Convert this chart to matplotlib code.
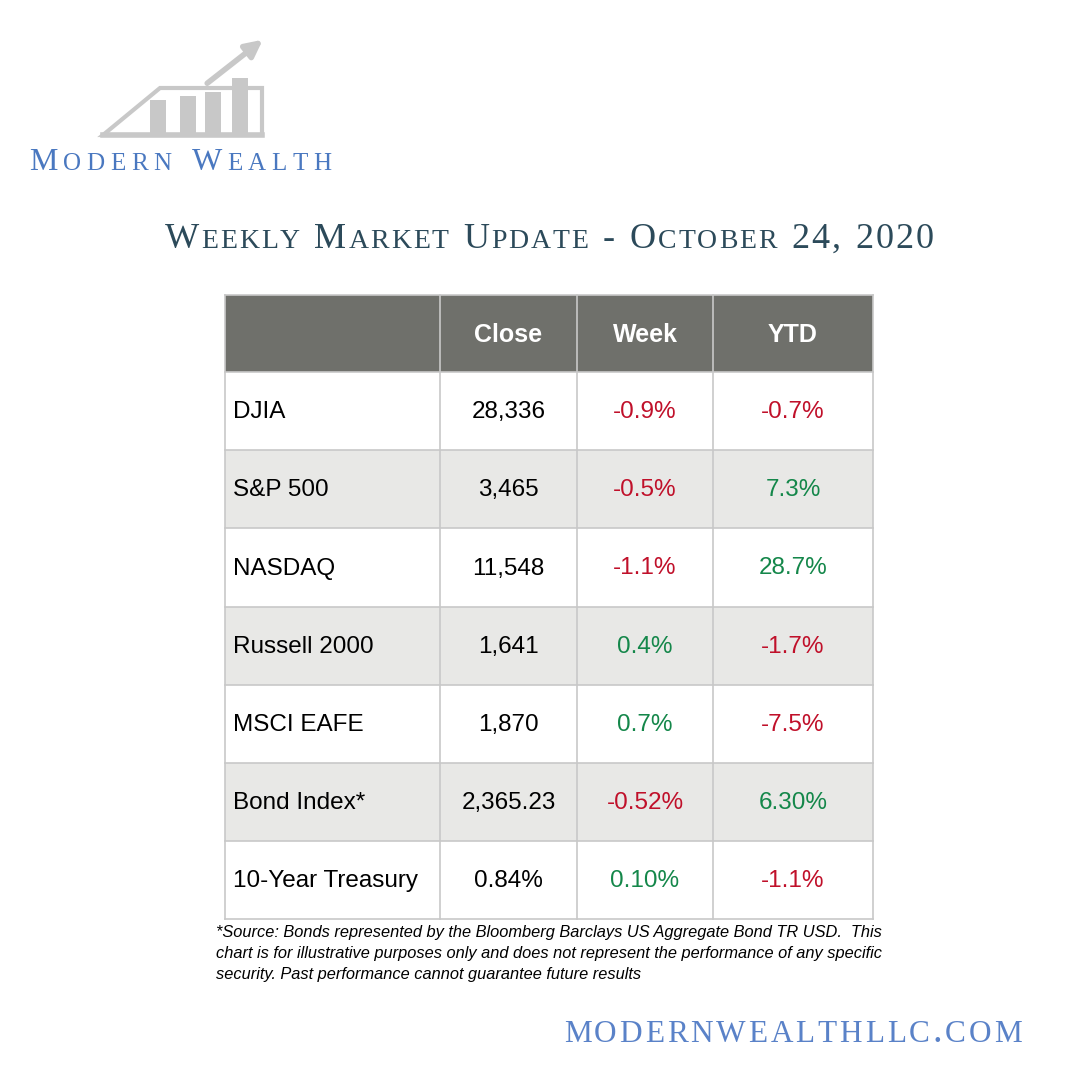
import matplotlib
matplotlib.use("Agg")
import matplotlib.pyplot as plt
from matplotlib.patches import Rectangle, Polygon

names = ["DJIA", "S&P 500", "NASDAQ", "Russell 2000", "MSCI EAFE", "Bond Index*", "10-Year Treasury"]
close = ["28,336", "3,465", "11,548", "1,641", "1,870", "2,365.23", "0.84%"]
week = ["-0.9%", "-0.5%", "-1.1%", "0.4%", "0.7%", "-0.52%", "0.10%"]
ytd = ["-0.7%", "7.3%", "28.7%", "-1.7%", "-7.5%", "6.30%", "-1.1%"]
headers = ["", "Close", "Week", "YTD"]

RED, GREEN = "#c0102a", "#14874a"
fig = plt.figure(figsize=(10.8, 10.8), dpi=100)
ax = fig.add_axes([0, 0, 1, 1])
ax.set_xlim(0, 1080); ax.set_ylim(1080, 0); ax.axis("off")
fig.patch.set_facecolor("white")
fig.canvas.draw()
r = fig.canvas.get_renderer()

def smallcaps(text, cx, cy, big, small, color, spacing=0.6):
    objs, widths = [], []
    for ch in text:
        s = small if ch.islower() else big
        c = ch.upper()
        t = ax.text(0, cy, c if c != " " else "\u00a0", fontsize=s, family="Liberation Serif",
                    color=color, va="baseline", ha="left")
        w = t.get_window_extent(r).width
        if ch == " ": w = s * 0.4
        objs.append(t); widths.append(w + spacing)
    x = cx - sum(widths) / 2
    for t, w in zip(objs, widths):
        t.set_x(x); x += w

# logo
g = "#c8c8c8"
ax.add_patch(Polygon([[103, 135], [160, 88], [262, 88], [262, 135]], closed=True, fc="none", ec=g, lw=3))
for xb, top in [(150, 100), (180, 96), (205, 92), (232, 78)]:
    ax.add_patch(Rectangle((xb, top), 16, 135 - top, fc=g, ec="none"))
ax.plot([103, 262], [135, 135], color=g, lw=4)
ax.annotate("", xy=(265, 38), xytext=(205, 85),
            arrowprops=dict(arrowstyle="-|>", color=g, lw=4, mutation_scale=25))
smallcaps("Modern Wealth", 183, 170, 23, 18, "#4a78c0", spacing=5.5)
smallcaps("Weekly Market Update - October 24, 2020", 550, 248, 26, 20, "#2c4a5a", spacing=2.0)
smallcaps("modernwealthllc.com", 794, 1042, 28, 22.5, "#5a82c8", spacing=2.8)

cols = [225, 440, 577, 713, 873]
top, hh, rh = 295, 77, 78.2
ax.add_patch(Rectangle((cols[0], top), cols[-1] - cols[0], hh, fc="#6f706b", ec="none"))
for j, h in enumerate(headers):
    if h:
        ax.text((cols[j] + cols[j + 1]) / 2, top + hh / 2 + 1, h, ha="center", va="center",
                color="white", fontsize=18, fontweight="bold", family="Liberation Sans")
for i in range(len(names)):
    y = top + hh + i * rh
    fc = "#e8e8e6" if i % 2 else "white"
    ax.add_patch(Rectangle((cols[0], y), cols[-1] - cols[0], rh, fc=fc, ec="none"))
    yc = y + rh / 2 + 1
    ax.text(cols[0] + 8, yc, names[i], va="center", fontsize=17.5, family="Liberation Sans")
    ax.text((cols[1] + cols[2]) / 2, yc, close[i], va="center", ha="center", fontsize=17.5, family="Liberation Sans")
    for j, v in [(2, week[i]), (3, ytd[i])]:
        ax.text((cols[j] + cols[j + 1]) / 2, yc, v, va="center", ha="center", fontsize=17.5,
                family="Liberation Sans", color=RED if v.startswith("-") else GREEN)
bottom = top + hh + len(names) * rh
lc = "#c8c8c8"
for x in cols:
    ax.plot([x, x], [top, bottom], color=lc, lw=1.2)
for k in range(len(names) + 2):
    y = top if k == 0 else top + hh + (k - 1) * rh
    ax.plot([cols[0], cols[-1]], [y, y], color=lc, lw=1.2)

note = ("*Source: Bonds represented by the Bloomberg Barclays US Aggregate Bond TR USD.  This\n"
        "chart is for illustrative purposes only and does not represent the performance of any specific\n"
        "security. Past performance cannot guarantee future results")
ax.text(216, 925, note, va="top", ha="left", fontsize=11.8, style="italic", family="Liberation Sans",
        linespacing=1.5)
fig.savefig("out.png", dpi=100)
